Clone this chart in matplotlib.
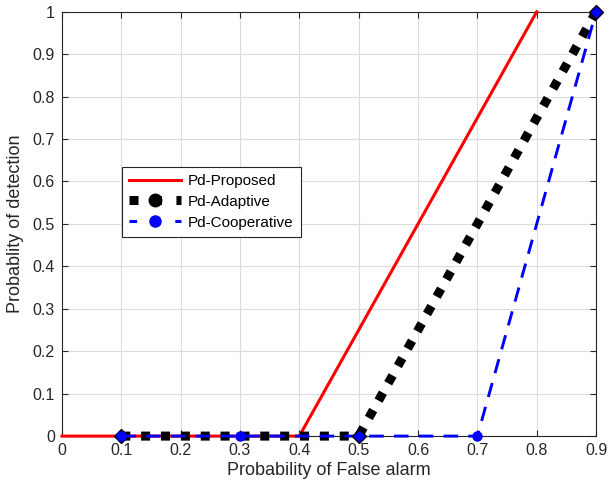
import numpy as np
import matplotlib.pyplot as plt
from matplotlib.lines import Line2D

plt.rcParams['font.family'] = ['Liberation Sans', 'DejaVu Sans']

# Datos
pfa_propuesto = [0.0, 0.4, 0.8]
pd_propuesto = [0.0, 0.0, 1.0]

pfa_adaptivo = [0.1, 0.5, 0.9]
pd_adaptivo = [0.0, 0.0, 1.0]

pfa_cooperativo = [0.1, 0.3, 0.5, 0.7, 0.9]
pd_cooperativo = [0.0, 0.0, 0.0, 0.0, 1.0]

fig = plt.figure(figsize=(6.07, 4.9), dpi=100)
ax = fig.add_axes([0.102, 0.110, 0.880, 0.866])

ax.plot(pfa_propuesto, pd_propuesto, color='red', lw=2.2, zorder=3, clip_on=False)
# marcador negro del adaptivo en el primer punto (queda debajo del circulo)
ax.plot(pfa_adaptivo[:1], pd_adaptivo[:1], linestyle='none', marker='D',
        markersize=7.5, color='black', zorder=3.5, clip_on=False)
ax.plot(pfa_adaptivo, pd_adaptivo, color='black', lw=6.5,
        linestyle=(0, (1, 1.2)), dash_capstyle='butt', zorder=4, clip_on=False)
ax.plot(pfa_cooperativo, pd_cooperativo, color='blue', lw=2.1,
        linestyle=(0, (5, 3.5)), marker='o', markersize=6.5, zorder=5, clip_on=False)
ax.plot(pfa_adaptivo[1:], pd_adaptivo[1:], linestyle='none', marker='D',
        markersize=7.5, markerfacecolor='blue', markeredgecolor='black',
        markeredgewidth=1, zorder=6, clip_on=False)

ax.set_xlim(0, 0.9)
ax.set_ylim(0, 1)
ax.set_xticks(np.arange(0, 0.91, 0.1))
ax.set_yticks(np.arange(0, 1.01, 0.1))
ax.set_xticklabels(['0', '0.1', '0.2', '0.3', '0.4', '0.5', '0.6', '0.7', '0.8', '0.9'])
ax.set_yticklabels(['0', '0.1', '0.2', '0.3', '0.4', '0.5', '0.6', '0.7', '0.8', '0.9', '1'])
ax.tick_params(direction='in', length=4, labelsize=11.5, colors='#262626',
               top=True, right=True, pad=5)
ax.grid(True, color='#dcdcdc', lw=0.8)
ax.set_axisbelow(True)
for s in ax.spines.values():
    s.set_color('#262626')
    s.set_linewidth(0.8)
    s.set_zorder(2.5)

ax.set_xlabel('Probability of False alarm', fontsize=13, color='#262626', labelpad=3)
ax.set_ylabel('Probablity of detection', fontsize=13, color='#262626', labelpad=6)

manejadores = [
    Line2D([], [], color='red', lw=2.2),
    Line2D([], [], color='black', lw=6.5, linestyle=(0, (1, 1.6)), dash_capstyle='butt',
           marker='o', markersize=9, markerfacecolor='black'),
    Line2D([], [], color='blue', lw=2.2, linestyle=(0, (2.5, 5)), marker='o', markersize=8),
]
leg = ax.legend(manejadores, ['Pd-Proposed', 'Pd-Adaptive', 'Pd-Cooperative'],
                loc='upper left', bbox_to_anchor=(0.112, 0.634), borderaxespad=0,
                fancybox=False, framealpha=1, edgecolor='#262626', fontsize=11,
                handlelength=3.4, handletextpad=0.5, labelspacing=0.45,
                borderpad=0.45)
leg.get_frame().set_linewidth(0.8)

fig.savefig('out.png', dpi=100)
